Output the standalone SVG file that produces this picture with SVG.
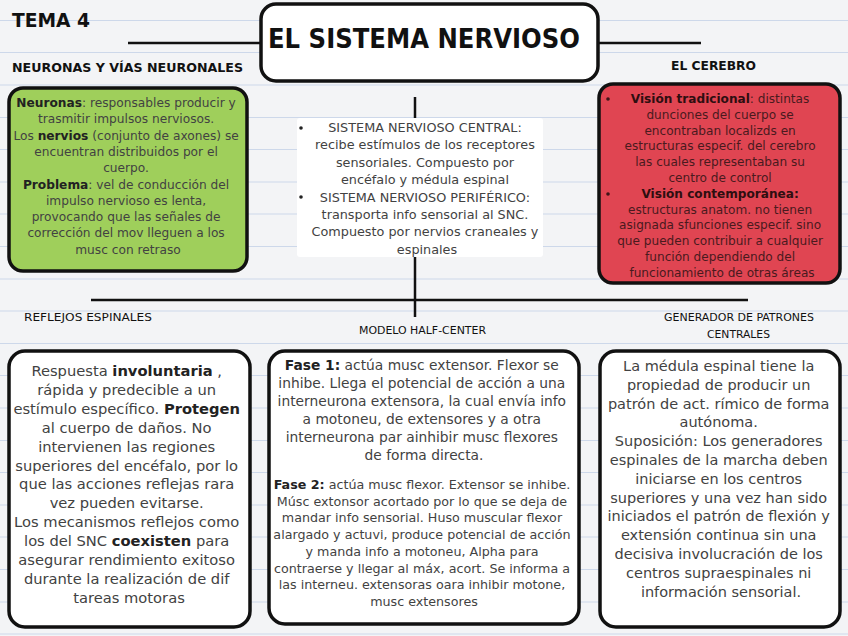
<svg xmlns="http://www.w3.org/2000/svg" width="848" height="636" viewBox="0 0 848 636">
<style>
.bg{fill:#f3f4f6}
.rule{stroke:#cdd8ea;stroke-width:1}
.box{stroke:#111;stroke-width:3.5}
.wire{stroke:#111;stroke-width:2.5;fill:none}
.t{font-family:"DejaVu Sans","Noto Sans",sans-serif;fill:#424242;text-anchor:middle}
.b{font-weight:bold;fill:#222}
.h{font-family:"DejaVu Sans","Liberation Sans",sans-serif;fill:#111;font-weight:bold}
.s{font-family:"DejaVu Sans Condensed","DejaVu Sans",sans-serif;fill:#111}
.dot{fill:#222}
</style>
<rect class="bg" x="0" y="0" width="848" height="636"/>
<g id="ruled-paper">
<line class="rule" x1="0" y1="20.5" x2="848" y2="20.5"/>
<line class="rule" x1="0" y1="52.5" x2="848" y2="52.5"/>
<line class="rule" x1="0" y1="85" x2="848" y2="85"/>
<line class="rule" x1="0" y1="117.5" x2="848" y2="117.5"/>
<line class="rule" x1="0" y1="149.5" x2="848" y2="149.5"/>
<line class="rule" x1="0" y1="182" x2="848" y2="182"/>
<line class="rule" x1="0" y1="214" x2="848" y2="214"/>
<line class="rule" x1="0" y1="246.5" x2="848" y2="246.5"/>
<line class="rule" x1="0" y1="279" x2="848" y2="279"/>
<line class="rule" x1="0" y1="311" x2="848" y2="311"/>
<line class="rule" x1="0" y1="343.5" x2="848" y2="343.5"/>
<line class="rule" x1="0" y1="375.5" x2="848" y2="375.5"/>
<line class="rule" x1="0" y1="408" x2="848" y2="408"/>
<line class="rule" x1="0" y1="440.5" x2="848" y2="440.5"/>
<line class="rule" x1="0" y1="472.5" x2="848" y2="472.5"/>
<line class="rule" x1="0" y1="505" x2="848" y2="505"/>
<line class="rule" x1="0" y1="537" x2="848" y2="537"/>
<line class="rule" x1="0" y1="569.5" x2="848" y2="569.5"/>
<line class="rule" x1="0" y1="602" x2="848" y2="602"/>
<line class="rule" x1="0" y1="634" x2="848" y2="634"/>
</g>
<g id="connectors">
<path class="wire" d="M128 43 H260"/>
<path class="wire" d="M598 43 H701"/>
<path class="wire" d="M415 97 V317"/>
<path class="wire" d="M91 300 H748"/>
</g>
<g id="labels">
<text class="h" x="12" y="27" font-size="20" textLength="78" lengthAdjust="spacingAndGlyphs">TEMA 4</text>
<text class="h" x="12" y="72" font-size="13" font-weight="normal" textLength="231" lengthAdjust="spacingAndGlyphs">NEURONAS Y VÍAS NEURONALES</text>
<text class="h" x="671" y="70" font-size="12" textLength="85" lengthAdjust="spacingAndGlyphs">EL CEREBRO</text>
<text class="s" x="24" y="321" font-size="11" textLength="128" lengthAdjust="spacingAndGlyphs">REFLEJOS ESPINALES</text>
<text class="s" x="359" y="334" font-size="11" textLength="127" lengthAdjust="spacingAndGlyphs">MODELO HALF-CENTER</text>
<text class="s" x="664" y="321" font-size="11" textLength="150" lengthAdjust="spacingAndGlyphs">GENERADOR DE PATRONES</text>
<text class="s" x="707" y="338" font-size="11" textLength="63" lengthAdjust="spacingAndGlyphs">CENTRALES</text>
</g>
<g id="title">
<rect class="box" x="261" y="4" width="337" height="77" rx="15" fill="#fff"/>
<text class="h" x="424" y="48" font-size="26" text-anchor="middle" textLength="312" lengthAdjust="spacingAndGlyphs">EL SISTEMA NERVIOSO</text>
</g>
<g id="neuronas">
<rect class="box" x="9" y="88" width="238" height="183" rx="14" fill="#9fcf5b"/>
<text class="t" font-size="12.2">
<tspan x="128" y="107"><tspan class="b">Neuronas</tspan>: responsables producir y</tspan>
<tspan x="128" y="123.3">trasmitir impulsos nerviosos.</tspan>
<tspan x="128" y="139.6">Los <tspan class="b">nervios</tspan> (conjunto de axones) se</tspan>
<tspan x="128" y="155.9">encuentran distribuidos por el</tspan>
<tspan x="128" y="172.2">cuerpo.</tspan>
<tspan x="128" y="188.5"><tspan class="b">Problema</tspan>: vel de conducción del</tspan>
<tspan x="128" y="204.8">impulso nervioso es lenta,</tspan>
<tspan x="128" y="221.1">provocando que las señales de</tspan>
<tspan x="128" y="237.4">corrección del mov lleguen a los</tspan>
<tspan x="128" y="253.7">musc con retraso</tspan>
</text>
</g>
<g id="sistemas">
<rect x="297" y="118" width="246" height="139" rx="3" fill="#fff"/>
<circle class="dot" cx="301" cy="128" r="1.8"/>
<circle class="dot" cx="301" cy="197" r="1.8"/>
<text class="t" font-size="12.8">
<tspan x="427" y="132">SISTEMA NERVIOSO CENTRAL:</tspan>
<tspan x="427" y="149.4">recibe estímulos de los receptores</tspan>
<tspan x="427" y="166.8">sensoriales. Compuesto por</tspan>
<tspan x="427" y="184.2">encéfalo y médula espinal</tspan>
<tspan x="427" y="201.6">SISTEMA NERVIOSO PERIFÉRICO:</tspan>
<tspan x="427" y="219">transporta info sensorial al SNC.</tspan>
<tspan x="427" y="236.4">Compuesto por nervios craneales y</tspan>
<tspan x="427" y="253.8">espinales</tspan>
</text>
</g>
<g id="cerebro">
<rect class="box" x="599" y="84" width="241" height="199" rx="14" fill="#e04552"/>
<circle cx="608" cy="99" r="1.8" fill="#3d1418"/>
<circle cx="608" cy="194" r="1.8" fill="#3d1418"/>
<text class="t" font-size="12.1" style="fill:#4a1a1e">
<tspan x="722" y="103"><tspan class="b" style="fill:#2e0e10">Visión tradicional</tspan>: distintas</tspan>
<tspan x="722" y="118.8">dunciones del cuerpo se</tspan>
<tspan x="722" y="134.6">encontraban localizds en</tspan>
<tspan x="722" y="150.4">estructuras especif. del cerebro</tspan>
<tspan x="722" y="166.2">las cuales representaban su</tspan>
<tspan x="722" y="182">centro de control</tspan>
<tspan x="722" y="197.8" class="b" style="fill:#2e0e10">Visión contemporánea:</tspan>
<tspan x="722" y="213.6">estructuras anatom. no tienen</tspan>
<tspan x="722" y="229.4">asignada sfunciones especif. sino</tspan>
<tspan x="722" y="245.2">que pueden contribuir a cualquier</tspan>
<tspan x="722" y="261">función dependiendo del</tspan>
<tspan x="722" y="276.8">funcionamiento de otras áreas</tspan>
</text>
</g>
<g id="reflejos">
<rect class="box" x="9" y="351" width="241" height="276" rx="16" fill="#fff"/>
<text class="t" font-size="14.7">
<tspan x="129" y="376">Respuesta <tspan class="b">involuntaria</tspan> ,</tspan>
<tspan x="129" y="394.9">rápida y predecible a un</tspan>
<tspan x="129" y="413.8">estímulo específico. <tspan class="b">Protegen</tspan></tspan>
<tspan x="129" y="432.7">al cuerpo de daños. No</tspan>
<tspan x="129" y="451.6">intervienen las regiones</tspan>
<tspan x="129" y="470.5">superiores del encéfalo, por lo</tspan>
<tspan x="129" y="489.4">que las acciones reflejas rara</tspan>
<tspan x="129" y="508.3">vez pueden evitarse.</tspan>
<tspan x="129" y="527.2">Los mecanismos reflejos como</tspan>
<tspan x="129" y="546.1">los del SNC <tspan class="b">coexisten</tspan> para</tspan>
<tspan x="129" y="565">asegurar rendimiento exitoso</tspan>
<tspan x="129" y="583.9">durante la realización de dif</tspan>
<tspan x="129" y="602.8">tareas motoras</tspan>
</text>
</g>
<g id="half-center">
<rect class="box" x="269" y="351" width="310" height="273" rx="16" fill="#fff"/>
<text class="t" font-size="13.8">
<tspan x="424" y="370"><tspan class="b">Fase 1:</tspan> actúa musc extensor. Flexor se</tspan>
<tspan x="424" y="388">inhibe. Llega el potencial de acción a una</tspan>
<tspan x="424" y="406">interneurona extensora, la cual envía info</tspan>
<tspan x="424" y="424">a motoneu, de extensores y a otra</tspan>
<tspan x="424" y="442">interneurona par ainhibir musc flexores</tspan>
<tspan x="424" y="460">de forma directa.</tspan>
</text>
<text class="t" font-size="12.7">
<tspan x="424" y="489"><tspan class="b">Fase 2:</tspan> actúa musc flexor. Extensor se inhibe.</tspan>
<tspan x="424" y="505.7">Músc extonsor acortado por lo que se deja de</tspan>
<tspan x="424" y="522.4">mandar info sensorial. Huso muscular flexor</tspan>
<tspan x="424" y="539.1">alargado y actuvi, produce potencial de acción</tspan>
<tspan x="424" y="555.8">y manda info a motoneu, Alpha para</tspan>
<tspan x="424" y="572.5">contraerse y llegar al máx, acort. Se informa a</tspan>
<tspan x="424" y="589.2">las interneu. extensoras oara inhibir  motone,</tspan>
<tspan x="424" y="605.9">musc extensores</tspan>
</text>
</g>
<g id="generador">
<rect class="box" x="600" y="351" width="240" height="276" rx="16" fill="#fff"/>
<text class="t" font-size="14.5">
<tspan x="721" y="371">La médula espinal tiene la</tspan>
<tspan x="721" y="389.8">propiedad de producir un</tspan>
<tspan x="721" y="408.6">patrón de act. rímico de forma</tspan>
<tspan x="721" y="427.4">autónoma.</tspan>
<tspan x="721" y="446.2">Suposición: Los generadores</tspan>
<tspan x="721" y="465">espinales de la marcha deben</tspan>
<tspan x="721" y="483.8">iniciarse en los centros</tspan>
<tspan x="721" y="502.6">superiores y una vez han sido</tspan>
<tspan x="721" y="521.4">iniciados el patrón de flexión y</tspan>
<tspan x="721" y="540.2">extensión continua sin una</tspan>
<tspan x="721" y="559">decisiva involucración de los</tspan>
<tspan x="721" y="577.8">centros supraespinales ni</tspan>
<tspan x="721" y="596.6">información sensorial.</tspan>
</text>
</g>
</svg>
